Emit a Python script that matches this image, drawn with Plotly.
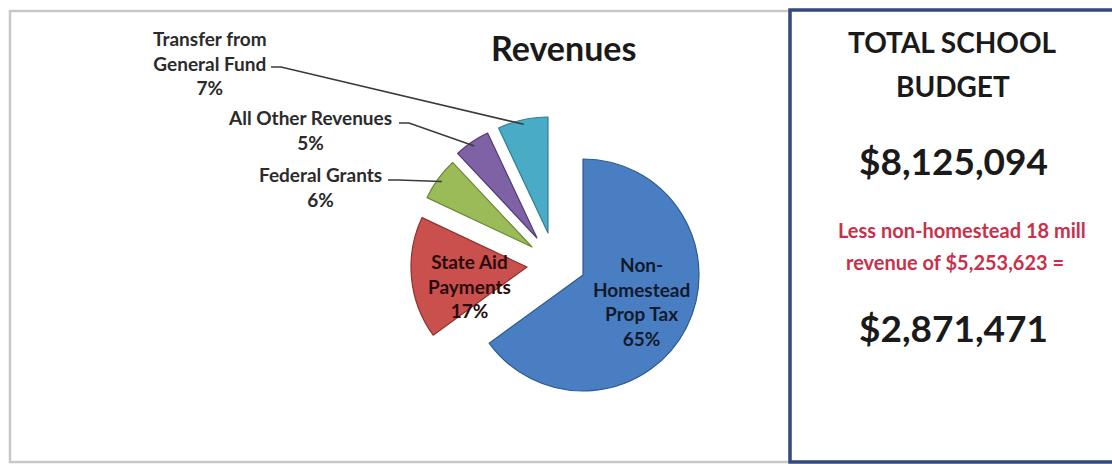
import math
import plotly.graph_objects as go

# ---------------- data ----------------
categories = ["Non-Homestead Prop Tax", "State Aid Payments", "Federal Grants",
              "All Other Revenues", "Transfer from General Fund"]
display_names = ["Non-<br>Homestead<br>Prop Tax", "State Aid<br>Payments", "Federal Grants",
                 "All Other Revenues", "Transfer from<br>General Fund"]
values = [65, 17, 6, 5, 7]

title_text = "Revenues"
box_heading_lines = ["TOTAL SCHOOL", "BUDGET"]
total_budget = "$8,125,094"
less_note_lines = ["Less non-homestead 18 mill", "revenue of $5,253,623 ="]
net_budget = "$2,871,471"

# ---------------- style / layout ----------------
W, H = 1112, 464
FONT = "Lato"
colors = ["#4a7ec2", "#c9504d", "#9bbb59", "#7f62a6", "#4aabc6"]
edge_colors = ["#2f5a92", "#8e3230", "#6b8a35", "#4f3a75", "#2f7f96"]
CX, CY, R = 583, 275, 116            # pie centre / radius in pixels
explode_px = [(0, 0), (-56, -8), (-51, -28), (-46, -37), (-35, -42)]

# label placement (pixels): inside labels and outside labels with leaders
inside_label_pos = {0: (641, 301), 1: (469, 286)}
inside_label_color = {0: "#111a2c", 1: "#2a0c0c"}
label_pos = {2: (320, 187), 3: (310, 130), 4: (210, 63)}
leader_start = {2: (388, 180), 3: (399, 123), 4: (271, 67)}


def fx(px):
    return px / W


def fy(py):
    return 1 - py / H


fig = go.Figure()

total = sum(values)
starts = []
acc = 0
for v in values:
    starts.append(acc / total * 360)
    acc += v

for i, v in enumerate(values):
    cx = CX + explode_px[i][0]
    cy = CY + explode_px[i][1]
    mcol = [colors[j] if j == i else "rgba(0,0,0,0)" for j in range(len(values))]
    lcol = [edge_colors[j] if j == i else "rgba(0,0,0,0)" for j in range(len(values))]
    fig.add_trace(go.Pie(
        labels=categories,
        values=values,
        sort=False,
        direction="clockwise",
        rotation=0,
        marker=dict(colors=mcol, line=dict(color=lcol, width=1.2)),
        textinfo="none",
        hoverinfo="label+percent",
        showlegend=False,
        domain=dict(x=[fx(cx - R), fx(cx + R)], y=[fy(cy + R), fy(cy - R)]),
    ))

shapes = []
annotations = []

for i, (lx, ly) in inside_label_pos.items():
    annotations.append(dict(
        x=fx(lx), y=fy(ly), xref="paper", yref="paper",
        text=f"{display_names[i]}<br>{values[i]}%",
        showarrow=False, xanchor="center", yanchor="middle",
        font=dict(family=FONT, size=19, color=inside_label_color[i], weight="bold"),
    ))

for i, (lx, ly) in label_pos.items():
    annotations.append(dict(
        x=fx(lx), y=fy(ly), xref="paper", yref="paper",
        text=f"{display_names[i]}<br>{values[i]}%",
        showarrow=False, xanchor="center", yanchor="middle",
        font=dict(family=FONT, size=19, color="#2b2b2b", weight="bold"),
    ))
    mid = starts[i] + values[i] / total * 180
    a = math.radians(mid)
    ex = CX + explode_px[i][0] + 0.96 * R * math.sin(a)
    ey = CY + explode_px[i][1] - 0.96 * R * math.cos(a)
    sx, sy = leader_start[i]
    path = (f"M {fx(sx)} {fy(sy)} L {fx(sx + 10)} {fy(sy)} "
            f"L {fx(ex)} {fy(ey)}")
    shapes.append(dict(type="path", xref="paper", yref="paper", path=path,
                       line=dict(color="#3a3a3a", width=1.6)))

# title
annotations.append(dict(
    x=fx(563), y=fy(48), xref="paper", yref="paper", text=title_text,
    showarrow=False, xanchor="center", yanchor="middle",
    font=dict(family=FONT, size=34, color="#1a1a1a", weight="bold"),
))


def panel_text(txt, px, py, size, color="#1a1a1a"):
    return dict(x=fx(px), y=fy(py), xref="paper", yref="paper", text=txt,
                showarrow=False, xanchor="center", yanchor="middle",
                font=dict(family=FONT, size=size, color=color, weight="bold"))


# right panel texts
annotations += [
    panel_text(box_heading_lines[0], 952, 42, 28),
    panel_text(box_heading_lines[1], 953, 86, 28),
    panel_text(total_budget, 953, 160, 37),
    panel_text(less_note_lines[0], 962, 230, 20, "#c9304a"),
    panel_text(less_note_lines[1], 955, 262, 20, "#c9304a"),
    panel_text(net_budget, 953, 327, 37),
]

# frames
shapes += [
    dict(type="rect", xref="paper", yref="paper",
         x0=fx(10), y0=fy(462), x1=fx(790), y1=fy(11),
         line=dict(color="#c8c8c8", width=2.5), layer="below"),
    dict(type="path", xref="paper", yref="paper",
         path=(f"M {fx(1200)} {fy(10)} L {fx(790)} {fy(10)} "
               f"L {fx(790)} {fy(462)} L {fx(1200)} {fy(462)}"),
         line=dict(color="#34497c", width=3.5), layer="above"),
]

fig.update_layout(
    width=W, height=H,
    margin=dict(l=0, r=0, t=0, b=0),
    paper_bgcolor="white",
    plot_bgcolor="white",
    shapes=shapes,
    annotations=annotations,
    showlegend=False,
)

fig.write_html("out.html", include_plotlyjs=True, full_html=True,
               config={"displayModeBar": False},
               post_script="document.body.style.margin='0';"
                           "document.body.style.overflow='hidden';")
